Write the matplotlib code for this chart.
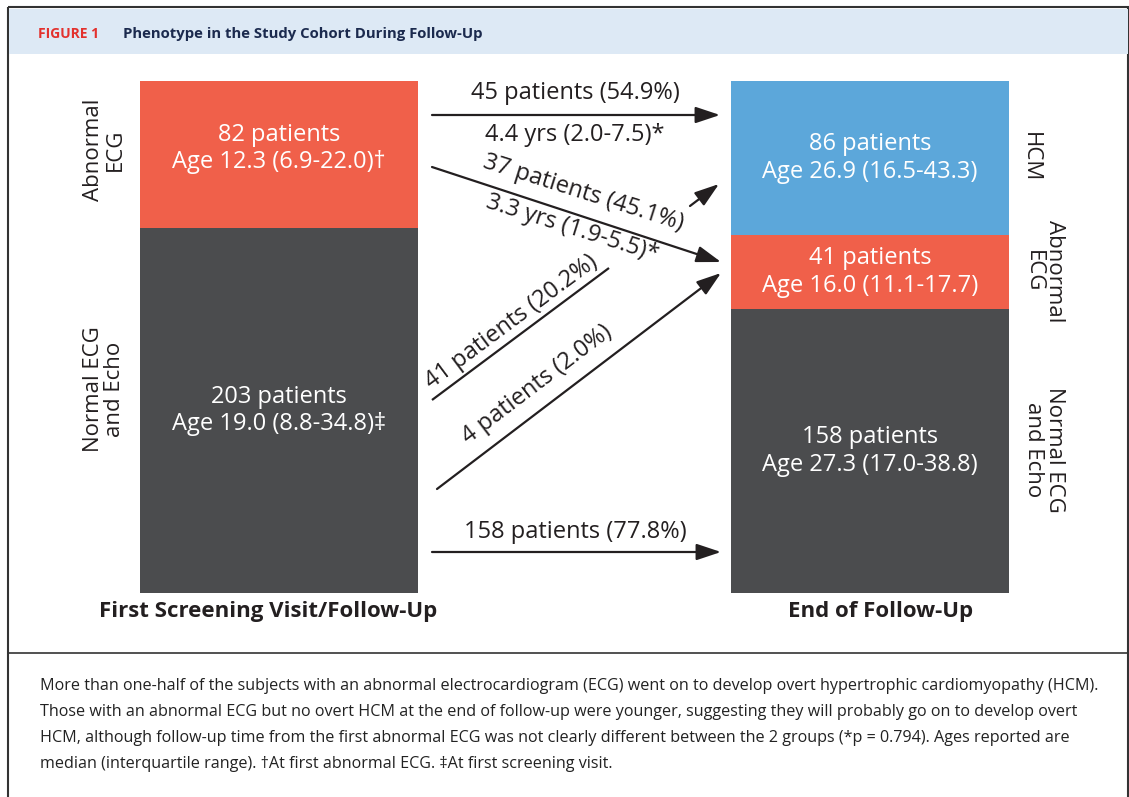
import matplotlib.pyplot as plt
from matplotlib.patches import Rectangle

plt.rcParams['font.family'] = ['Open Sans', 'DejaVu Sans']

# data
stages = ['First Screening Visit/Follow-Up', 'End of Follow-Up']
first_groups = ['Normal ECG\nand Echo', 'Abnormal\nECG']          # bottom -> top
first_counts = [203, 82]
first_ages = ['Age 19.0 (8.8-34.8)\u2021', 'Age 12.3 (6.9-22.0)\u2020']
end_groups = ['Normal ECG\nand Echo', 'Abnormal\nECG', 'HCM']      # bottom -> top
end_counts = [158, 41, 86]
end_ages = ['Age 27.3 (17.0-38.8)', 'Age 16.0 (11.1-17.7)', 'Age 26.9 (16.5-43.3)']
first_colors = ['#4b4c4e', '#f0604a']
end_colors = ['#4b4c4e', '#f0604a', '#5ca7da']
flow_labels = ['45 patients (54.9%)', '4.4 yrs (2.0-7.5)*',
               '37 patients (45.1%)', '3.3 yrs (1.9-5.5)*',
               '41 patients (20.2%)', '4 patients (2.0%)',
               '158 patients (77.8%)']
caption = ['More than one-half of the subjects with an abnormal electrocardiogram (ECG) went on to develop overt hypertrophic cardiomyopathy (HCM).',
           'Those with an abnormal ECG but no overt HCM at the end of follow-up were younger, suggesting they will probably go on to develop overt',
           'HCM, although follow-up time from the first abnormal ECG was not clearly different between the 2 groups (*p = 0.794). Ages reported are',
           'median (interquartile range). \u2020At first abnormal ECG. \u2021At first screening visit.']

W, H = 1129, 797
fig = plt.figure(figsize=(W / 100, H / 100), dpi=100)

# overlay in pixel coordinates for frame, header, arrows, caption
ov = fig.add_axes([0, 0, 1, 1])
ov.set_xlim(0, W)
ov.set_ylim(H, 0)
ov.axis('off')

ov.add_patch(Rectangle((8, 7), W - 9, H, fill=False, ec='#333333', lw=1.5))
ov.add_patch(Rectangle((9, 9), W - 10, 45, fc='#dde9f5', ec='none'))
ov.plot([8, W], [653, 653], color='#333333', lw=1.2)
ov.text(38, 34, 'FIGURE 1', color='#e3312d', fontsize=10, fontweight='bold', va='center')
ov.text(123, 34, 'Phenotype in the Study Cohort During Follow-Up', color='#1b2a4e',
        fontsize=10.7, fontweight='bold', va='center')

for i, line in enumerate(caption):
    ov.text(40, 686 + i * 26, line, fontsize=11.6, color='#222222', va='center')

# bars
ax = fig.add_axes([140 / W, (H - 592.5) / H, 869 / W, 511.5 / H])
ax.set_xlim(-0.2352, 1.2352)
ax.set_ylim(0, sum(first_counts))
ax.axis('off')
bw = 0.4704

bottom = 0
for n, c, age, dy in zip(first_counts, first_colors, first_ages, [0, 3.5]):
    ax.bar(0, n, bw, bottom=bottom, color=c, lw=0)
    ax.text(0, bottom + n / 2 + dy, f'{n} patients\n{age}', ha='center', va='center',
            color='white', fontsize=17, fontweight='medium', linespacing=1.2)
    bottom += n

bottom = 0
for n, c, age in zip(end_counts, end_colors, end_ages):
    ax.bar(1, n, bw, bottom=bottom, color=c, lw=0)
    ax.text(1, bottom + n / 2, f'{n} patients\n{age}', ha='center', va='center',
            color='white', fontsize=17, fontweight='medium', linespacing=1.2)
    bottom += n

# group labels
lk = dict(ha='center', va='center', fontsize=16, color='#231f20',
          fontweight='medium', linespacing=1.05)
ov.text(104, 150, first_groups[1], rotation=90, **lk)
ov.text(104, 389, first_groups[0], rotation=90, **lk)
ov.text(1030, 157, end_groups[2], rotation=-90, **lk)
ov.text(1044, 271, end_groups[1], rotation=-90, **lk)
ov.text(1044, 450, end_groups[0], rotation=-90, **lk)

ov.text(268, 612, stages[0], ha='center', va='center', fontsize=16,
        fontweight='bold', color='#231f20')
ov.text(881, 612, stages[1], ha='center', va='center', fontsize=16,
        fontweight='bold', color='#231f20')

# flow arrows
arrow = dict(arrowstyle='-|>,head_length=0.75,head_width=0.25', color='#231f20',
             lw=1.6, mutation_scale=20, shrinkA=0, shrinkB=0)
for start, end in [((432, 115), (720, 115)),
                   ((432, 167), (721, 262)),
                   ((690, 206), (719, 184)),
                   ((437, 489), (721, 273)),
                   ((432, 552), (721, 552))]:
    ov.annotate('', xy=end, xytext=start, arrowprops=arrow)
ov.plot([432, 609], [400, 268], color='#231f20', lw=1.6, solid_capstyle='butt')

tk = dict(ha='center', va='center', fontsize=17, color='#231f20',
          fontweight='medium', rotation_mode='anchor')
ov.text(575, 93, flow_labels[0], **tk)
ov.text(575, 135, flow_labels[1], **tk)
ov.text(583, 193, flow_labels[2], rotation=-17.5, **tk)
ov.text(572, 229, flow_labels[3], rotation=-17.5, **tk)
ov.text(511, 322, flow_labels[4], rotation=36.7, **tk)
ov.text(537, 385, flow_labels[5], rotation=37.2, **tk)
ov.text(575, 532, flow_labels[6], **tk)

fig.savefig('out.png', dpi=100)
